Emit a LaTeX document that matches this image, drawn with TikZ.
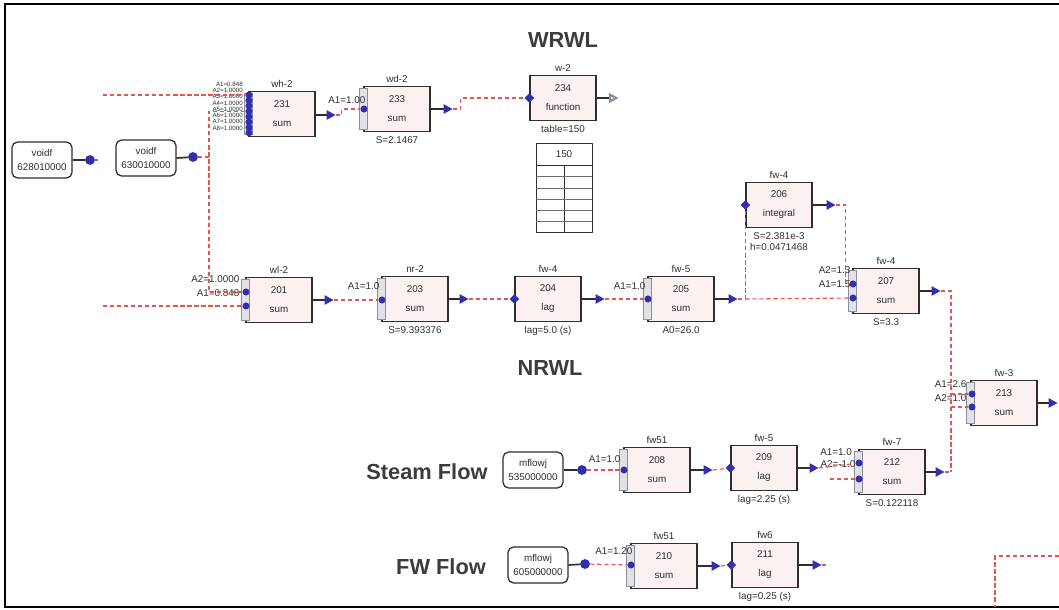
\documentclass[tikz,border=0pt]{standalone}
\usepackage{fontspec}
\setmainfont{Liberation Sans}
\usetikzlibrary{arrows.meta,positioning,shapes.geometric}
\definecolor{ink}{HTML}{2E2E2E}
\definecolor{boxfill}{HTML}{FBF1F1}
\definecolor{portblue}{HTML}{2F2FB0}
\definecolor{wirered}{HTML}{E25555}
\definecolor{portgray}{HTML}{8C8C9A}
\definecolor{title}{HTML}{3C3C3C}
\tikzset{
  blk/.style={draw=ink,fill=boxfill,line width=.9pt,minimum width=1.65cm,minimum height=1.12cm,align=center,font=\fontsize{7}{8.5}\selectfont,text=ink,inner sep=1pt},
  src/.style={draw=ink,fill=white,rounded corners=4pt,line width=.9pt,minimum width=1.5cm,minimum height=.9cm,align=center,font=\fontsize{7}{8.5}\selectfont,text=ink,inner sep=1pt},
  tagtxt/.style={font=\fontsize{7}{8}\selectfont,text=ink,inner sep=1pt},
  tinytxt/.style={font=\fontsize{4.4}{5}\selectfont,text=ink,inner sep=0pt},
  heading/.style={font=\bfseries\fontsize{15.5}{18}\selectfont,text=title},
  outflow/.style={-{Triangle[length=6.5pt,width=6.5pt,color=portblue]},line width=1.6pt,draw=ink},
  outopen/.style={-{Triangle[open,length=7pt,width=7pt,color=portgray]},line width=1.6pt,draw=ink},
  srcline/.style={line width=1.2pt,draw=ink},
  wire/.style={draw=wirered,line width=.8pt,dash pattern=on 3pt off 2pt},
  srcdot/.style={circle,fill=portblue,inner sep=0pt,minimum size=7pt},
  sumdot/.style={circle,fill=portblue,inner sep=0pt,minimum size=5pt},
  inport/.style={diamond,fill=portblue,inner sep=0pt,minimum size=7pt},
  portcol/.style={draw=portgray,fill=portgray!25,line width=.5pt,minimum width=6pt,minimum height=1.02cm,inner sep=0pt}
}

\begin{document}
\begin{tikzpicture}[x=0.025cm,y=-0.025cm]
  \useasboundingbox (0,0) rectangle (1059,610);
  \draw[line width=2pt] (1059,4) -- (5,4) -- (5,607) -- (1059,607);

  \node[heading] (wrwl) at (563,40) {WRWL};
  \node[heading] (nrwl) at (550,368) {NRWL};
  \node[heading] (steam) at (427,472) {Steam Flow};
  \node[heading] (fwflow) at (441,567) {FW Flow};

  % sources
  \node[src] (void1) at (42,160) {voidf\\[2pt]628010000};
  \node[src] (void2) at (146,158) {voidf\\[2pt]630010000};
  \node[src] (mflow1) at (533,470) {mflowj\\[2pt]535000000};
  \node[src] (mflow2) at (538,565) {mflowj\\[2pt]605000000};

  % blocks
  \node[blk] (b231) at (282,114) {231\\[5pt]sum};
  \node[blk] (b233) at (397,109) {233\\[5pt]sum};
  \node[blk] (b234) at (563,98) {234\\[5pt]function};
  \node[blk] (b201) at (279,300) {201\\[5pt]sum};
  \node[blk] (b203) at (415,299) {203\\[5pt]sum};
  \node[blk] (b204) at (548,299) {204\\[5pt]lag};
  \node[blk] (b205) at (681,299) {205\\[5pt]sum};
  \node[blk] (b206) at (779,205) {206\\[5pt]integral};
  \node[blk] (b207) at (886,291) {207\\[5pt]sum};
  \node[blk] (b213) at (1004,403) {213\\[5pt]sum};
  \node[blk] (b208) at (657,470) {208\\[5pt]sum};
  \node[blk] (b209) at (764,468) {209\\[5pt]lag};
  \node[blk] (b212) at (892,472) {212\\[5pt]sum};
  \node[blk] (b210) at (664,566) {210\\[5pt]sum};
  \node[blk] (b211) at (765,565) {211\\[5pt]lag};

  \node[tagtxt,above=1pt of b231] (n231) {wh-2};
  \node[tagtxt,above=1pt of b233] (n233) {wd-2};
  \node[tagtxt,above=1pt of b234] (n234) {w-2};
  \node[tagtxt,above=1pt of b201] (n201) {wl-2};
  \node[tagtxt,above=1pt of b203] (n203) {nr-2};
  \node[tagtxt,above=1pt of b204] (n204) {fw-4};
  \node[tagtxt,above=1pt of b205] (n205) {fw-5};
  \node[tagtxt,above=1pt of b206] (n206) {fw-4};
  \node[tagtxt,above=1pt of b207] (n207) {fw-4};
  \node[tagtxt,above=1pt of b213] (n213) {fw-3};
  \node[tagtxt,above=1pt of b208] (n208) {fw51};
  \node[tagtxt,above=1pt of b209] (n209) {fw-5};
  \node[tagtxt,above=1pt of b212] (n212) {fw-7};
  \node[tagtxt,above=1pt of b210] (n210) {fw51};
  \node[tagtxt,above=1pt of b211] (n211) {fw6};

  \node[tagtxt,below=2pt of b233] (s233) {S=2.1467};
  \node[tagtxt,below=2pt of b234] (t234) {table=150};
  \node[tagtxt,below=2pt of b203] (s203) {S=9.393376};
  \node[tagtxt,below=2pt of b204] (s204) {lag=5.0 (s)};
  \node[tagtxt,below=2pt of b205] (s205) {A0=26.0};
  \node[tagtxt,below=2pt of b206] (s206) {S=2.381e-3};
  \node[tagtxt,below=0pt of s206] (h206) {h=0.0471468};
  \node[tagtxt,below=2pt of b207] (s207) {S=3.3};
  \node[tagtxt,below=2pt of b209] (s209) {lag=2.25 (s)};
  \node[tagtxt,below=2pt of b212] (s212) {S=0.122118};
  \node[tagtxt,below=2pt of b211] (s211) {lag=0.25 (s)};

  % table of 234
  \draw[ink,line width=.7pt] (536,143) rectangle (592,232);
  \draw[ink,line width=.6pt] (536,165) -- (592,165) (564,165) -- (564,232);
  \foreach \r in {176,188,199,210,221} \draw[ink!70,line width=.5pt] (536,\r) -- (592,\r);
  \node[tagtxt] (tbl) at (564,154) {150};

  % port columns
  \foreach \b in {b231,b233,b201,b203,b205,b207,b213,b208,b212,b210}
    \node[portcol] (c\b) at (\b.west) {};
  \foreach \k in {0,...,7}
    \node[sumdot] (p231-\k) at (249,{95+5.4*\k}) {};
  \foreach \k/\v in {0/A1=0.848,1/A2=1.0000,2/A3=1.0000,3/A4=1.0000,4/A5=1.0000,5/A6=1.0000,6/A7=1.0000,7/A8=1.0000}
    \node[tinytxt,anchor=east] (a231-\k) at (243,{84+6.3*\k}) {\v};
  \node[sumdot] (p233) at (364,109) {};
  \node[sumdot] (p201a) at (246,292) {};
  \node[sumdot] (p201b) at (246,306) {};
  \node[sumdot] (p203) at (382,300) {};
  \node[sumdot] (p205) at (648,299) {};
  \node[sumdot] (p207b) at (853,284) {};
  \node[sumdot] (p207a) at (853,298) {};
  \node[sumdot] (p213a) at (972,394) {};
  \node[sumdot] (p213b) at (972,407) {};
  \node[sumdot] (p208) at (624,470) {};
  \node[sumdot] (p212a) at (859,463) {};
  \node[sumdot] (p212b) at (859,479) {};
  \node[sumdot] (p210) at (631,565) {};
  \node[inport] (i234) at (b234.west) {};
  \node[inport] (i204) at (b204.west) {};
  \node[inport] (i206) at (b206.west) {};
  \node[inport] (i209) at (b209.west) {};
  \node[inport] (i211) at (b211.west) {};

  \node[tagtxt,anchor=east] (a233) at (367,100) {A1=1.00};
  \node[tagtxt,anchor=east] (a201b) at (241,279) {A2=1.0000};
  \node[tagtxt,anchor=east] (a201a) at (241,293) {A1=0.848};
  \node[tagtxt,anchor=east] (a203) at (381,286) {A1=1.0};
  \node[tagtxt,anchor=east] (a205) at (647,286) {A1=1.0};
  \node[tagtxt,anchor=east] (a207b) at (852,270) {A2=1.3};
  \node[tagtxt,anchor=east] (a207a) at (852,284) {A1=1.5};
  \node[tagtxt,anchor=east] (a213a) at (968,384) {A1=2.6};
  \node[tagtxt,anchor=east] (a213b) at (968,398) {A2=1.0};
  \node[tagtxt,anchor=east] (a208) at (622,459) {A1=1.0};
  \node[tagtxt,anchor=east] (a210) at (634,551) {A1=1.20};
  \node[tagtxt] (a212a) at (836,452) {A1=1.0};
  \node[tagtxt] (a212b) at (838,464) {A2=-1.0};

  % source outputs
  \node[srcdot] (d1) at (90,160) {};
  \node[srcdot] (d2) at (193,157) {};
  \node[srcdot] (d3) at (582,470) {};
  \node[srcdot] (d4) at (585,564) {};
  \draw[srcline] (void1.east) -- (d1);
  \draw[srcline] (void2.east) -- (d2);
  \draw[srcline] (mflow1.east) -- (d3);
  \draw[srcline] (mflow2.east) -- (d4);

  % block outputs
  \draw[outflow] (b231.east |- 0,115) -- ++(20,0) coordinate (o231);
  \draw[outflow] (b233.east) -- ++(22,0) coordinate (o233);
  \draw[outopen] (b234.east) -- ++(22,0) coordinate (o234);
  \draw[outflow] (b201.east) -- ++(21,0) coordinate (o201);
  \draw[outflow] (b203.east) -- ++(20,0) coordinate (o203);
  \draw[outflow] (b204.east) -- ++(23,0) coordinate (o204);
  \draw[outflow] (b205.east) -- ++(23,0) coordinate (o205);
  \draw[outflow] (b206.east) -- ++(23,0) coordinate (o206);
  \draw[outflow] (b207.east) -- ++(21,0) coordinate (o207);
  \draw[outflow] (b213.east) -- ++(20,0) coordinate (o213);
  \draw[outflow] (b208.east) -- ++(22,0) coordinate (o208);
  \draw[outflow] (b209.east) -- ++(21,0) coordinate (o209);
  \draw[outflow] (b212.east) -- ++(19,0) coordinate (o212);
  \draw[outflow] (b210.east) -- ++(23,0) coordinate (o210);
  \draw[outflow] (b211.east) -- ++(23,0) coordinate (o211);

  % signal wires
  \coordinate (w0) at (103,95);
  \coordinate (w1) at (103,306);
  \coordinate (bus) at (209,157);
  \coordinate (rbus) at (951,291);
  \coordinate (w2) at (830,479);
  \draw[wire] (w0) -- (p231-0);
  \draw[wire] (d1) -- ++(8,0);
  \draw[wire] (d2) -- (bus);
  \draw[wire] (p231-3) -| (p201a -| bus) -- (p201a);
  \draw[wire] (w1) -- (p201b);
  \draw[wire] (o231) -- ++(6,0) |- (p233);
  \draw[wire] (o233) -- ++(8,0) |- (i234);
  \draw[wire] (o201) -- (p203);
  \draw[wire] (o203) -- (i204);
  \draw[wire] (o204) -- (p205);
  \draw[wire] (o205) -- (i206.south |- o205) -- (i206);
  \draw[wire] (i206.south |- o205) -- (p207a);
  \draw[wire] (o206) -- ++(10,0) |- (p207b);
  \draw[wire] (o207) -- (rbus) -- (rbus |- o212);
  \draw[wire] (rbus |- p213a) -- (p213a);
  \draw[wire] (rbus |- p213b) -- (p213b);
  \draw[wire] (o212) -- (rbus |- o212);
  \draw[wire] (d3) -- (p208);
  \draw[wire] (o208) -- (i209);
  \draw[wire] (o209) -- (p212a);
  \draw[wire] (w2) -- (p212b);
  \draw[wire] (d4) -- (p210);
  \draw[wire] (o210) -- (i211);
  \draw[wire] (o211) -- ++(6,0);
  \draw[wire] (1059,556) -- (995,556) -- (995,607);
\end{tikzpicture}
\end{document}
